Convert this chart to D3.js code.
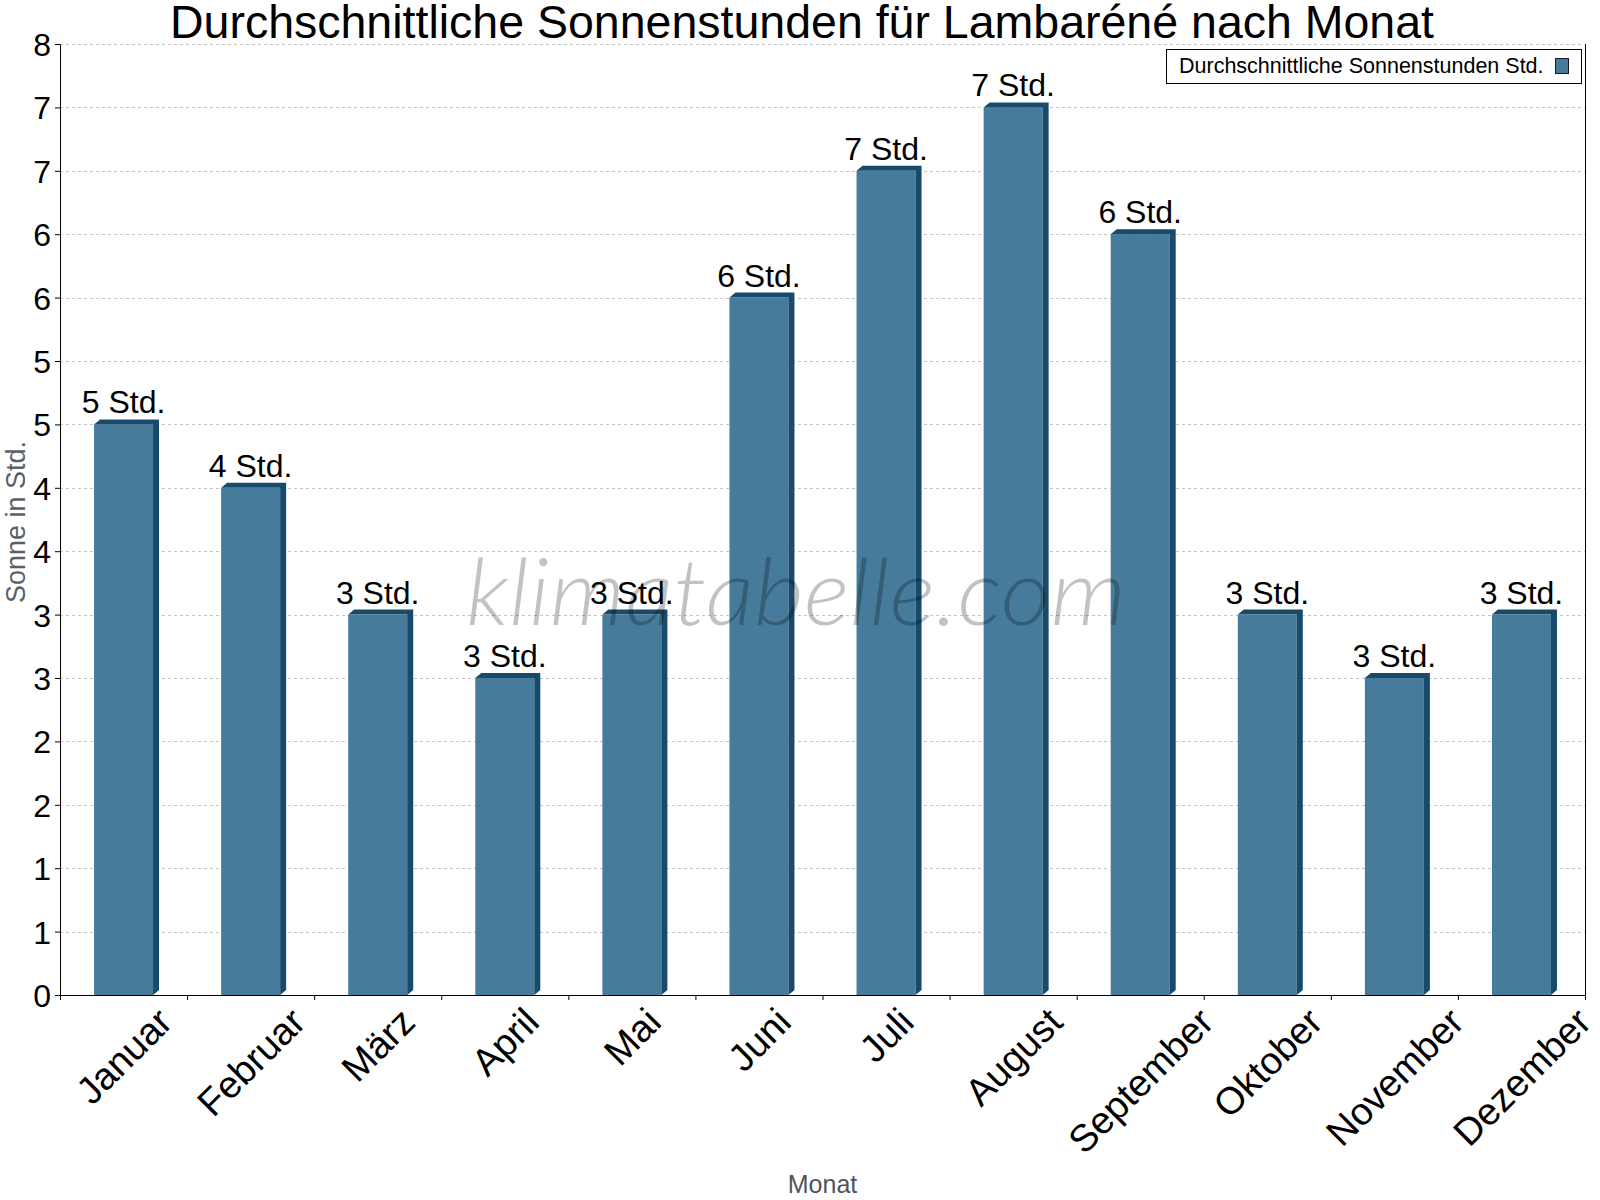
<!DOCTYPE html>
<html>
<head>
<meta charset="utf-8">
<script src="https://cdn.jsdelivr.net/npm/d3@7"></script>
<style>
  body { margin: 0; background: #fff; }
  svg { display: block; font-family: "Liberation Sans", Arial, sans-serif; }
</style>
</head>
<body>
<div id="chart"></div>
<script>
// data
const months = ["Januar", "Februar", "März", "April", "Mai", "Juni", "Juli", "August", "September", "Oktober", "November", "Dezember"];
const sunHours = [4.5, 4, 3, 2.5, 3, 5.5, 6.5, 7, 6, 3, 2.5, 3];
const yTickValues = [0, 0.5, 1, 1.5, 2, 2.5, 3, 3.5, 4, 4.5, 5, 5.5, 6, 6.5, 7, 7.5];

const titleText = "Durchschnittliche Sonnenstunden für Lambaréné nach Monat";
const legendText = "Durchschnittliche Sonnenstunden Std.";
const yLabelText = "Sonne in Std.";
const xLabelText = "Monat";

const width = 1600, height = 1200;
const margin = { top: 44, bottom: 205, left: 60, right: 15 };
const innerW = width - margin.left - margin.right;
const innerH = height - margin.top - margin.bottom;

const frontColor = "#467b9c";
const darkColor = "#174a6b";
const depth = { dx: 6, dy: 5 };

const svg = d3.select("#chart").append("svg")
  .attr("width", width)
  .attr("height", height);

const chart = svg.append("g")
  .attr("transform", `translate(${margin.left}, ${margin.top})`);

// scales
const pad = 1 - 59 / (innerW / months.length);
const xScale = d3.scaleBand().domain(months).range([0, innerW])
  .paddingInner(pad).paddingOuter(pad / 2);
const xTickScale = d3.scaleLinear().domain([0, months.length]).range([0, innerW]);
const yScale = d3.scaleLinear().domain([0, 7.5]).range([innerH, 0]);

// dashed grid lines
chart.append("g")
  .attr("class", "grid")
  .selectAll("line")
  .data(yTickValues)
  .enter()
  .append("line")
  .attr("x1", 0)
  .attr("x2", innerW)
  .attr("y1", d => Math.round(yScale(d)) + 0.5)
  .attr("y2", d => Math.round(yScale(d)) + 0.5)
  .attr("stroke", "#c4c4c4")
  .attr("stroke-dasharray", "3,3");

// right border of the plot area
chart.append("line")
  .attr("x1", innerW + 0.5).attr("x2", innerW + 0.5)
  .attr("y1", 0).attr("y2", innerH)
  .attr("stroke", "#000");

// 3d looking bars: front face, top face and right side
const bars = chart.append("g").attr("class", "bars")
  .selectAll("g")
  .data(months.map((m, i) => ({ month: m, value: sunHours[i] })))
  .enter()
  .append("g");

bars.append("rect")
  .attr("x", d => xScale(d.month))
  .attr("y", d => yScale(d.value))
  .attr("width", xScale.bandwidth())
  .attr("height", d => innerH - yScale(d.value))
  .attr("fill", frontColor);

bars.append("path")
  .attr("fill", darkColor)
  .attr("d", d => {
    const x0 = xScale(d.month), x1 = x0 + xScale.bandwidth();
    const yt = yScale(d.value), yb = yScale(0);
    return `M${x0},${yt}L${x0 + depth.dx},${yt - depth.dy}L${x1 + depth.dx},${yt - depth.dy}` +
      `L${x1 + depth.dx},${yb - depth.dy}L${x1},${yb}L${x1},${yt}Z`;
  });

// watermark
svg.append("text")
  .attr("x", 466)
  .attr("y", 625)
  .attr("textLength", 660)
  .attr("lengthAdjust", "spacingAndGlyphs")
  .style("font-family", "Lato, 'Open Sans', sans-serif")
  .style("font-weight", 300)
  .style("font-style", "italic")
  .style("font-size", "92px")
  .attr("fill", "rgba(0,0,0,0.24)")
  .text("klimatabelle.com");

// value labels
bars.append("text")
  .attr("x", d => xScale(d.month) + xScale.bandwidth() / 2)
  .attr("y", d => yScale(d.value) - depth.dy - 6)
  .attr("text-anchor", "middle")
  .style("font-size", "32px")
  .attr("fill", "#000")
  .text(d => Math.round(d.value) + " Std.");

// y axis
const yAxis = chart.append("g")
  .attr("class", "axis y")
  .call(d3.axisLeft(yScale).tickValues(yTickValues).tickSize(5).tickPadding(4)
    .tickFormat(d => Math.round(d)));
yAxis.selectAll("text").style("font-size", "32px").attr("fill", "#000").attr("dy", "0.36em");
yAxis.selectAll("line, path").attr("stroke", "#000");

// x axis with ticks at the band boundaries
const xAxis = chart.append("g")
  .attr("class", "axis x")
  .attr("transform", `translate(0, ${innerH})`)
  .call(d3.axisBottom(xTickScale).ticks(months.length).tickSize(5).tickFormat(""));
xAxis.selectAll("line, path").attr("stroke", "#000");
xAxis.select(".domain").attr("d", `M0.5,0.5H${innerW}`);

// rotated month labels, bounding box centred on the band
const labelTop = 1005 - margin.top - innerH;
const labelSize = 38;
const asc = 0.72 * labelSize;
xAxis.selectAll(".mlabel")
  .data(months)
  .enter()
  .append("text")
  .attr("class", "mlabel")
  .attr("text-anchor", "end")
  .style("font-size", labelSize + "px")
  .attr("fill", "#000")
  .text(d => d)
  .each(function (d) {
    const len = this.getComputedTextLength();
    const cx = xScale(d) + xScale.bandwidth() / 2;
    const px = cx + 0.3536 * (len + asc);
    const py = labelTop + 0.7071 * asc;
    d3.select(this).attr("transform", `translate(${px}, ${py}) rotate(-45)`);
  });

// title
svg.append("text")
  .attr("x", 802)
  .attr("y", 38)
  .attr("text-anchor", "middle")
  .style("font-size", "46.5px")
  .attr("fill", "#000")
  .text(titleText);

// axis titles
svg.append("text")
  .attr("transform", `translate(25, 522) rotate(-90)`)
  .attr("text-anchor", "middle")
  .style("font-size", "27px")
  .attr("fill", "#5b6067")
  .text(yLabelText);

svg.append("text")
  .attr("x", margin.left + innerW / 2)
  .attr("y", 1193)
  .attr("text-anchor", "middle")
  .style("font-size", "25px")
  .attr("fill", "#4f545a")
  .text(xLabelText);

// legend
const legend = svg.append("g").attr("class", "legend");
legend.append("rect")
  .attr("x", 1166.5).attr("y", 49.5)
  .attr("width", 415).attr("height", 34)
  .attr("fill", "#fff").attr("stroke", "#000");
legend.append("text")
  .attr("x", 1179).attr("y", 73)
  .style("font-size", "21.5px")
  .attr("fill", "#000")
  .text(legendText);
legend.append("rect")
  .attr("x", 1555.5).attr("y", 58.5)
  .attr("width", 13).attr("height", 15)
  .attr("fill", frontColor).attr("stroke", "#1a1a1a");
</script>
</body>
</html>
